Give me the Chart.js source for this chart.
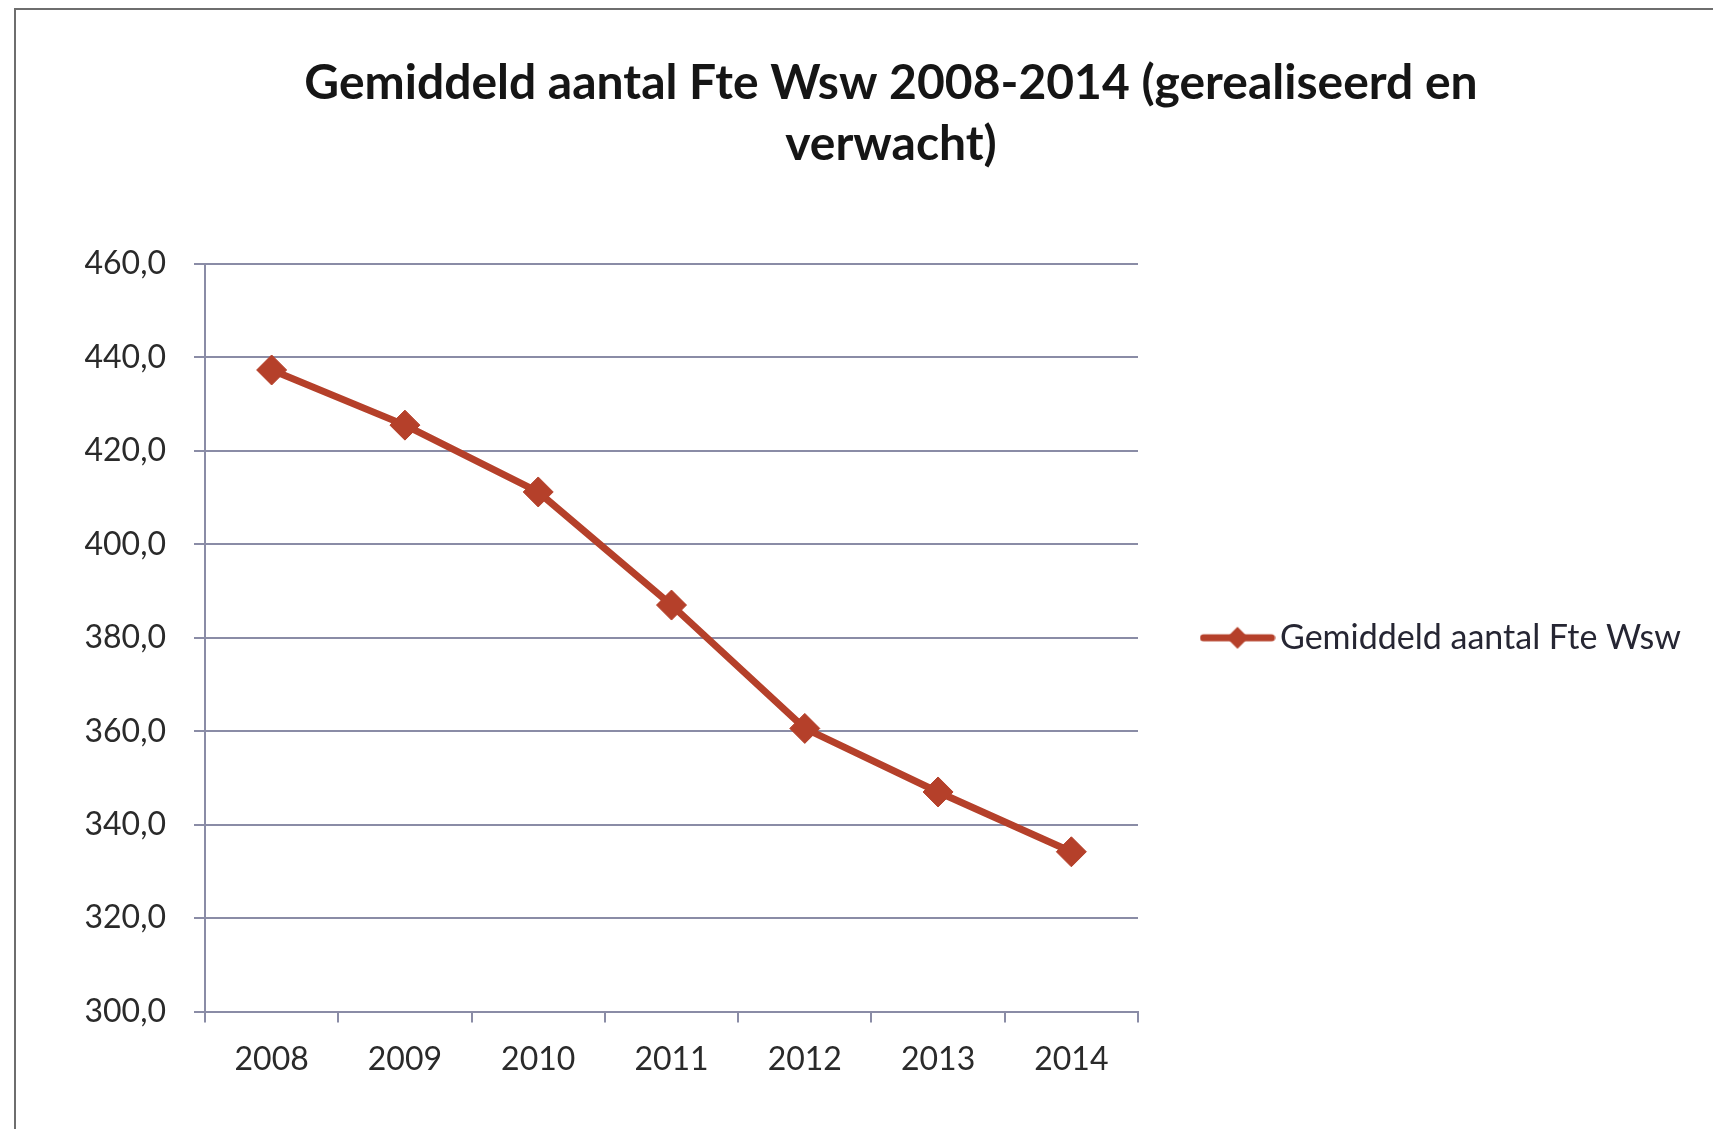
<!DOCTYPE html>
<html lang="nl">
<head>
  <meta charset="UTF-8">
  <title>Gemiddeld aantal Fte Wsw 2008-2014</title>
  <style>
    body {
      margin: 0;
      background: #fff;
      overflow: hidden;
      width: 1713px;
      height: 1129px;
      position: relative;
    }

    #frame {
      position: absolute;
      left: 14px;
      top: 8px;
      width: 1760px;
      height: 1140px;
      border-left: 2px solid #6e6e6e;
      border-top: 2px solid #6e6e6e;
    }

    #wrap {
      position: absolute;
      left: 16px;
      top: 10px;
      width: 1750px;
      height: 1119px;
    }
  </style>
</head>
<body>
  <div id="frame"></div>
  <div id="wrap"><canvas id="chart"></canvas></div>

  <script src="https://cdn.jsdelivr.net/npm/chart.js"></script>
  <script>
    const titleLines = ['Gemiddeld aantal Fte Wsw 2008-2014 (gerealiseerd en', 'verwacht)'];
    const years = ['2008', '2009', '2010', '2011', '2012', '2013', '2014'];
    const fte = [437.3, 425.5, 411.2, 387.0, 360.6, 347.0, 334.2];
    const seriesName = 'Gemiddeld aantal Fte Wsw';

    const lineColor = '#b5402a';
    const gridColor = '#8a8ca6';
    const font = 'Lato, Carlito, "Open Sans", sans-serif';

    // legend symbol: line with a diamond in the middle
    const legendIcon = document.createElement('canvas');
    legendIcon.width = 76;
    legendIcon.height = 26;
    (function () {
      const c = legendIcon.getContext('2d');
      c.strokeStyle = lineColor;
      c.lineWidth = 7;
      c.lineCap = 'round';
      c.beginPath();
      c.moveTo(4, 13);
      c.lineTo(72, 13);
      c.stroke();
      c.fillStyle = lineColor;
      c.beginPath();
      c.moveTo(38, 2);
      c.lineTo(49, 13);
      c.lineTo(38, 24);
      c.lineTo(27, 13);
      c.closePath();
      c.fill();
    })();

    // title centred on the whole frame; legend box widened so its label is not clipped
    const frameLayout = {
      id: 'frameLayout',
      afterLayout(chart) {
        if (chart.titleBlock) {
          chart.titleBlock.left = 0;
          chart.titleBlock.right = chart.width;
        }
        const lg = chart.legend;
        if (lg) {
          lg.width = chart.width - lg.left;
          lg.right = chart.width;
        }
      }
    };

    new Chart(document.getElementById('chart'), {
      type: 'line',
      data: {
        labels: years,
        datasets: [{
          label: seriesName,
          data: fte,
          borderColor: lineColor,
          backgroundColor: lineColor,
          borderWidth: 7,
          tension: 0,
          pointStyle: 'rectRot',
          pointRadius: 15,
          pointHoverRadius: 15,
          pointBorderWidth: 1,
          pointBackgroundColor: lineColor,
          pointBorderColor: lineColor
        }]
      },
      plugins: [frameLayout],
      options: {
        responsive: true,
        maintainAspectRatio: false,
        animation: false,
        layout: {
          padding: { left: 0, right: 300, top: 0, bottom: 32 }
        },
        plugins: {
          title: {
            display: true,
            text: titleLines,
            color: '#151515',
            font: { family: font, size: 48, weight: 'bold', lineHeight: 1.27 },
            padding: { top: 43, bottom: 89 }
          },
          legend: {
            position: 'right',
            fullSize: false,
            maxWidth: 328,
            labels: {
              usePointStyle: true,
              pointStyleWidth: 51,
              boxHeight: 26,
              padding: 74,
              color: '#262633',
              font: { family: font, size: 34 },
              generateLabels(chart) {
                const items = Chart.defaults.plugins.legend.labels.generateLabels(chart);
                items.forEach(it => { it.pointStyle = legendIcon; });
                return items;
              }
            }
          },
          tooltip: { enabled: false }
        },
        scales: {
          x: {
            offset: true,
            grid: {
              offset: true,
              drawOnChartArea: false,
              drawTicks: true,
              tickLength: 11,
              color: gridColor,
              lineWidth: 2
            },
            border: { color: gridColor, width: 2 },
            ticks: {
              color: '#2a2a2a',
              font: { family: font, size: 32 },
              padding: 18,
              maxRotation: 0
            }
          },
          y: {
            min: 300,
            max: 460,
            afterFit(scale) { scale.width = 189; },
            grid: {
              color: gridColor,
              lineWidth: 2,
              tickLength: 11
            },
            border: { color: gridColor, width: 2 },
            ticks: {
              stepSize: 20,
              color: '#2a2a2a',
              font: { family: font, size: 32 },
              padding: 28,
              callback: v => v.toFixed(1).replace('.', ',')
            }
          }
        }
      }
    });
  </script>
</body>
</html>
